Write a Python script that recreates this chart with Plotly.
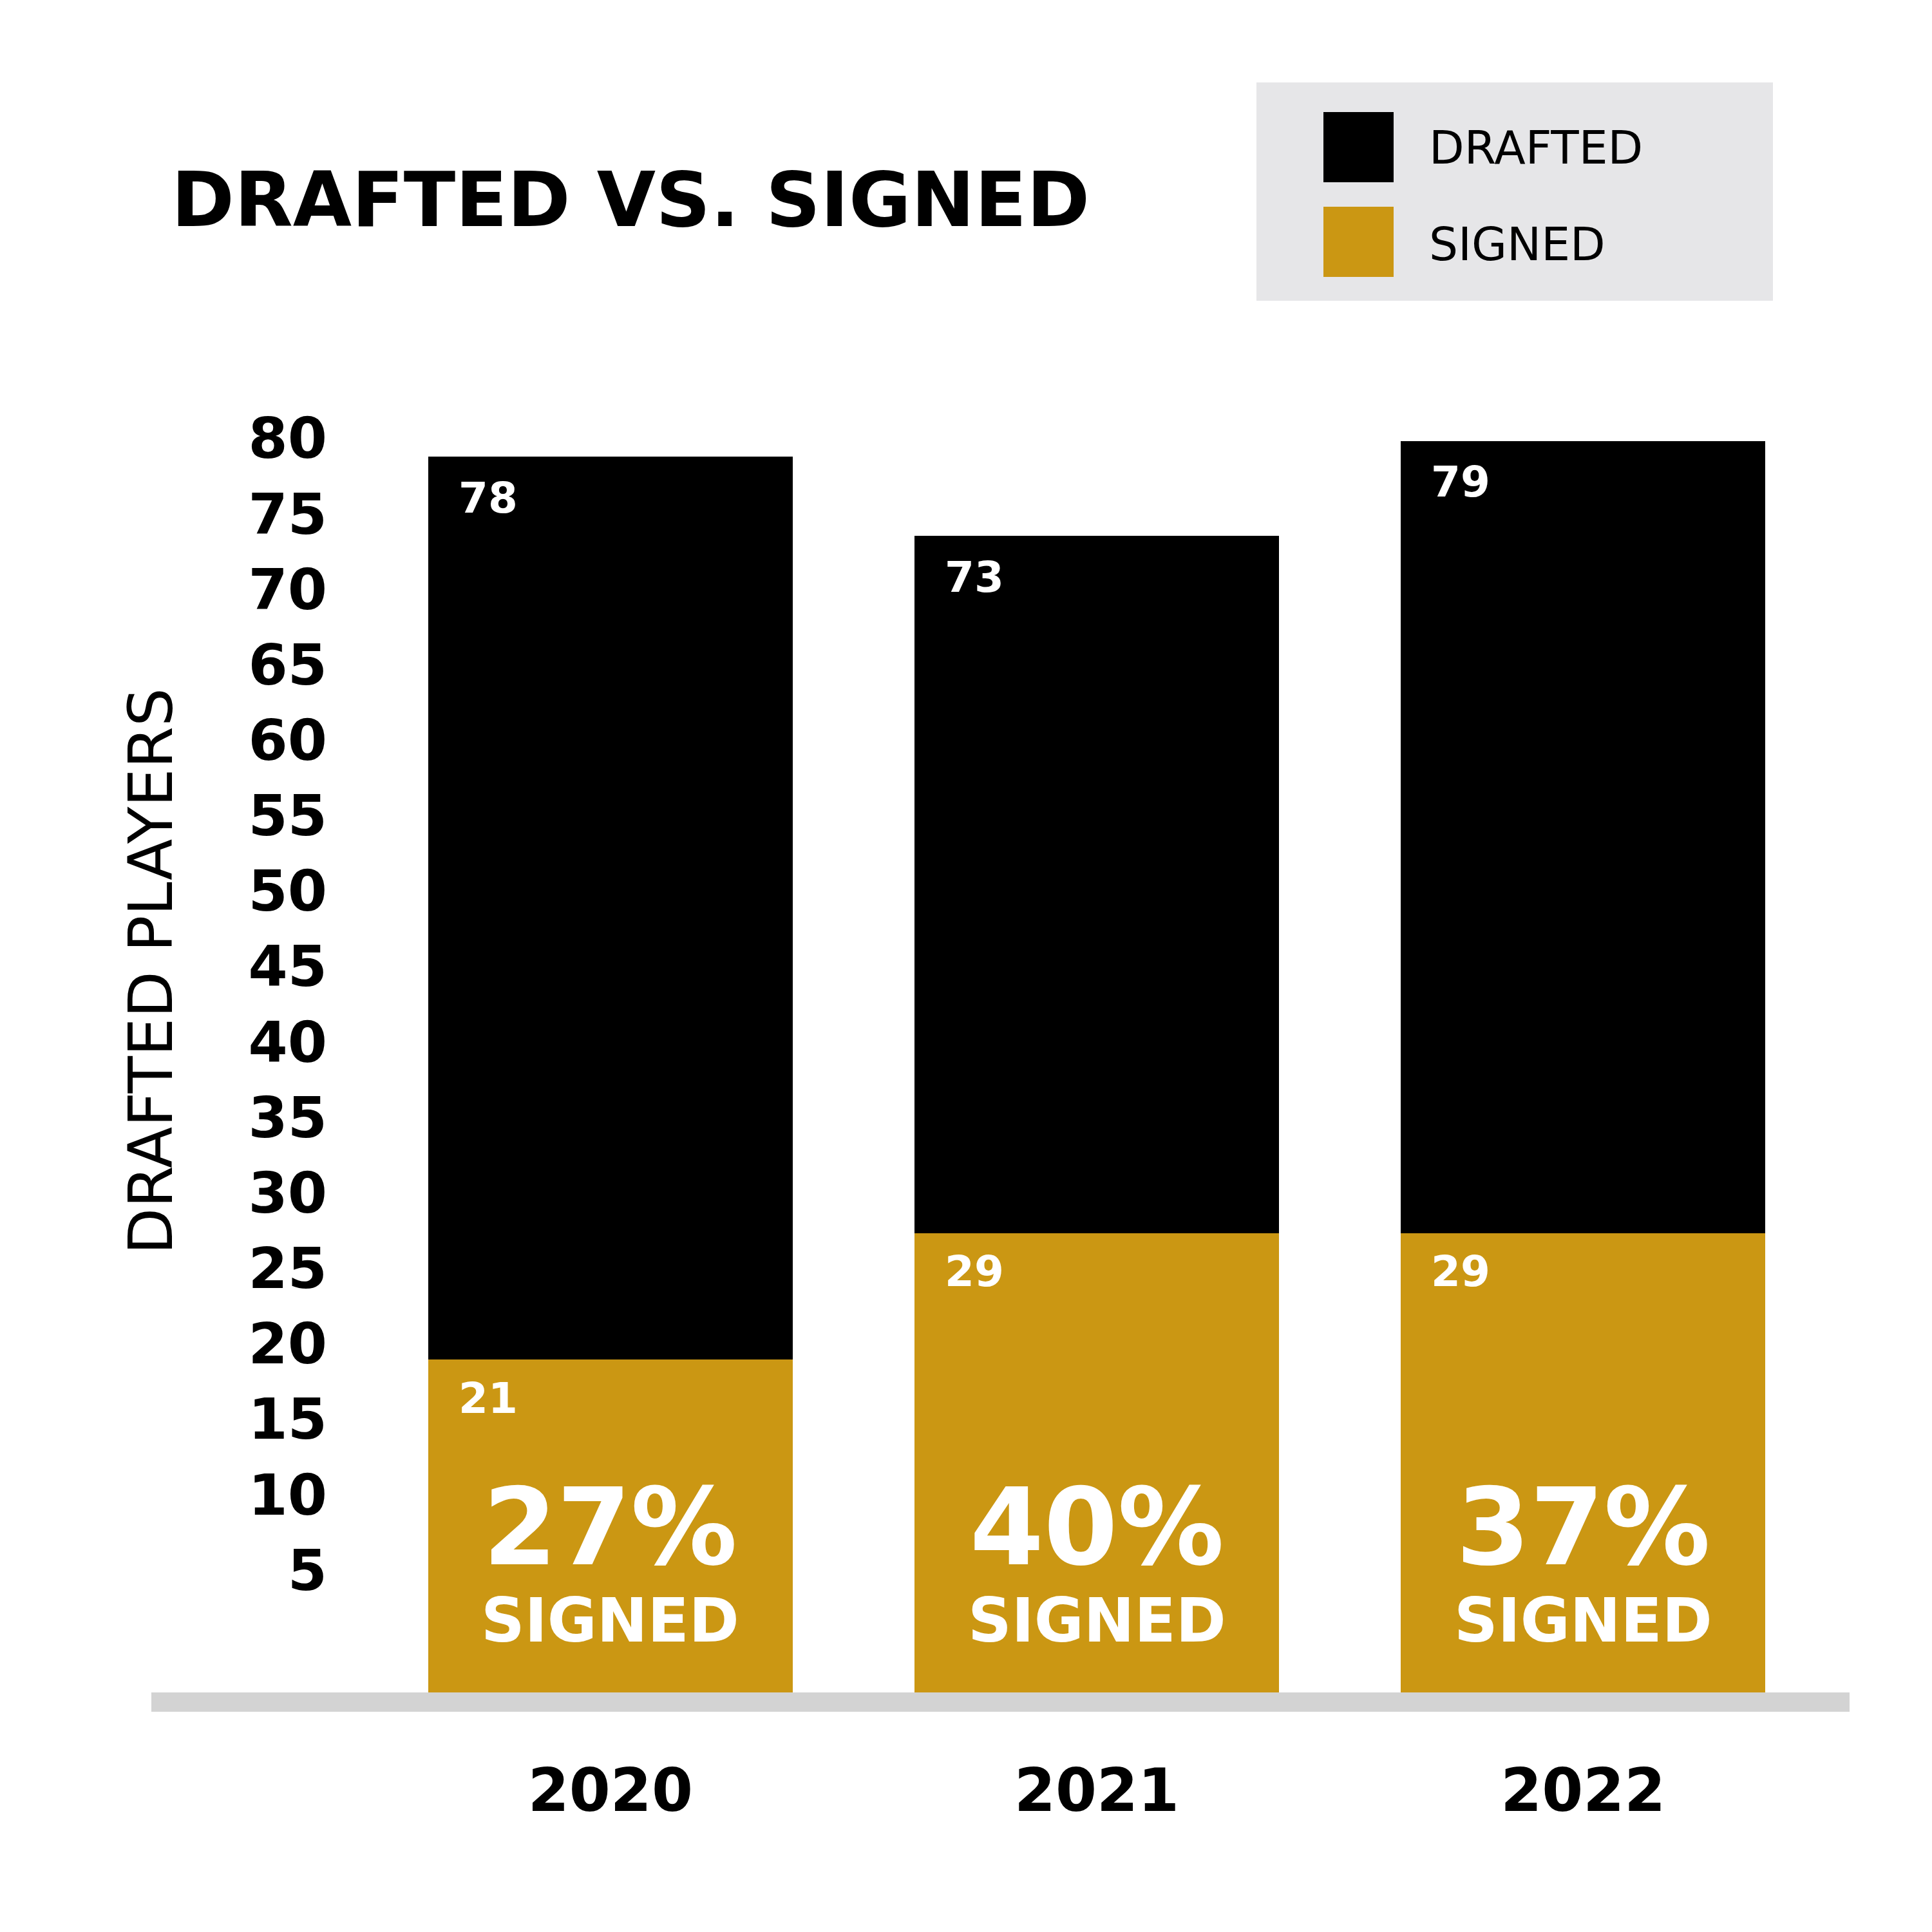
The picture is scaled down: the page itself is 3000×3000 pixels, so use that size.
import plotly.graph_objects as go

# ---- data ----
years = ["2020", "2021", "2022"]
drafted = [78, 73, 79]
signed = [21, 29, 29]
y_tick_values = [5, 10, 15, 20, 25, 30, 35, 40, 45, 50, 55, 60, 65, 70, 75, 80]
legend_labels = ["DRAFTED", "SIGNED"]

GOLD = "#CB9713"
BLACK = "#000000"
FONT = "DejaVu Sans"

W = H = 3000
def px(x):  # pixel -> paper x
    return x / W
def py(y):  # pixel (from top) -> paper y
    return (H - y) / H

plot_left, plot_right = 227, 2864
plot_top, plot_bottom = 600, 2620
unit_px = 24.6          # bar scale
tick_px = 23.43         # tick label scale
tick_zero_px = 2547

remaining = [d - s for d, s in zip(drafted, signed)]
pct = [round(100 * s / d) for s, d in zip(signed, drafted)]

fig = go.Figure()
fig.add_trace(go.Bar(x=years, y=signed, marker=dict(color=GOLD, line=dict(width=0)),
                     width=0.75, name=legend_labels[1], showlegend=False, hoverinfo="skip"))
fig.add_trace(go.Bar(x=years, y=remaining, marker=dict(color=BLACK, line=dict(width=0)),
                     width=0.75, name=legend_labels[0], showlegend=False, hoverinfo="skip"))
fig.add_trace(go.Scatter(x=[], y=[], yaxis="y2", showlegend=False, hoverinfo="skip"))

y_max = (plot_bottom - plot_top) / unit_px
y2_lo = (tick_zero_px - plot_bottom) / tick_px
y2_hi = (tick_zero_px - plot_top) / tick_px

annotations = []
for i, (d, s, p) in enumerate(zip(drafted, signed, pct)):
    annotations.append(dict(x=i, y=d, xref="x", yref="y", text=str(d), showarrow=False,
                            xanchor="left", yanchor="middle", xshift=-238, yshift=-64,
                            font=dict(family=FONT, size=66, color="white", weight="bold")))
    annotations.append(dict(x=i, y=s, xref="x", yref="y", text=str(s), showarrow=False,
                            xanchor="left", yanchor="middle", xshift=-238, yshift=-60,
                            font=dict(family=FONT, size=66, color="white", weight="bold")))
    annotations.append(dict(x=i, y=0, xref="x", yref="y", text=f"{p}%", showarrow=False,
                            xanchor="center", yanchor="middle", yshift=256,
                            font=dict(family=FONT, size=165, color="white", weight="bold")))
    annotations.append(dict(x=i, y=0, xref="x", yref="y", text="SIGNED", showarrow=False,
                            xanchor="center", yanchor="middle", yshift=112,
                            font=dict(family=FONT, size=94, color="white", weight="bold")))

# axis title
annotations.append(dict(x=px(226), y=py(1500), xref="paper", yref="paper", text="DRAFTED PLAYERS",
                        showarrow=False, textangle=-90, xanchor="center", yanchor="middle",
                        font=dict(family=FONT, size=94, color="black")))

# legend labels
annotations.append(dict(x=px(2209), y=py(222), xref="paper", yref="paper", text=legend_labels[0],
                        showarrow=False, xanchor="left", yanchor="middle",
                        font=dict(family=FONT, size=71, color="black")))
annotations.append(dict(x=px(2209), y=py(371), xref="paper", yref="paper", text=legend_labels[1],
                        showarrow=False, xanchor="left", yanchor="middle",
                        font=dict(family=FONT, size=71, color="black")))

shapes = [
    dict(type="rect", xref="paper", yref="paper", x0=px(1943), x1=px(2745), y0=py(459), y1=py(120),
         fillcolor="#E6E6E8", line=dict(width=0), layer="below"),
    dict(type="rect", xref="paper", yref="paper", x0=px(2047), x1=px(2156), y0=py(275), y1=py(166),
         fillcolor=BLACK, line=dict(width=0)),
    dict(type="rect", xref="paper", yref="paper", x0=px(2047), x1=px(2156), y0=py(422), y1=py(313),
         fillcolor=GOLD, line=dict(width=0)),
]

fig.update_layout(
    template="none",
    width=W, height=H,
    margin=dict(l=0, r=0, t=0, b=0, autoexpand=False),
    paper_bgcolor="white", plot_bgcolor="white",
    barmode="stack", bargap=0.25,
    showlegend=False,
    title=dict(text="DRAFTED VS. SIGNED", x=px(258), y=py(302), xanchor="left", yanchor="middle",
               xref="paper", yref="container",
               font=dict(family=FONT, size=118, color="black", weight="bold")),
    xaxis=dict(domain=[px(plot_left), px(plot_right)], range=[-0.944, 2.548],
               type="category", showgrid=False, zeroline=False,
               showline=True, linewidth=30, linecolor="#D3D3D3",
               ticks="", ticklabelstandoff=44, automargin=False,
               tickfont=dict(family=FONT, size=92, color="black", weight="bold")),
    yaxis=dict(domain=[py(plot_bottom), py(plot_top)], range=[0, y_max],
               showgrid=False, zeroline=False, showline=False, showticklabels=False,
               ticks="", automargin=False),
    yaxis2=dict(overlaying="y", anchor="free", position=px(500), side="left",
                range=[y2_lo, y2_hi], tickmode="array", tickvals=y_tick_values,
                ticktext=[str(v) for v in y_tick_values],
                showgrid=False, zeroline=False, showline=False, ticks="", automargin=False,
                tickfont=dict(family=FONT, size=88, color="black", weight="bold")),
    annotations=annotations,
    shapes=shapes,
)

fig.write_html("out.html")
